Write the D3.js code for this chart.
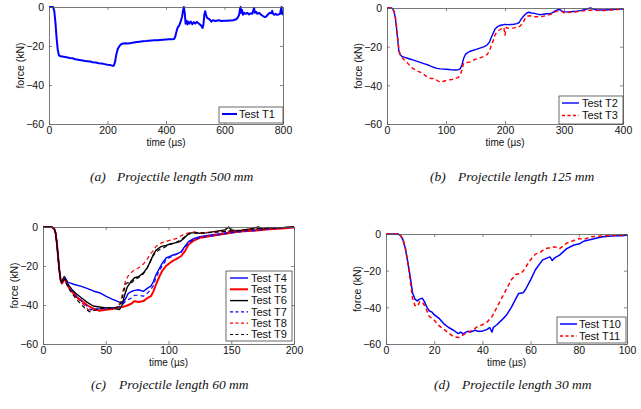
<!DOCTYPE html>
<html><head><meta charset="utf-8">
<script src="https://cdn.jsdelivr.net/npm/d3@7"></script>
<style>body{margin:0;background:#fff}svg{display:block}</style>
</head><body>
<svg id="c" width="641" height="409"></svg>
<script>
// ---------- DATA (time µs, force kN) ----------
const yTicks = [0, -20, -40, -60];
const xTicksA = [0, 200, 400, 600, 800];
const xTicksB = [0, 100, 200, 300, 400];
const xTicksC = [0, 50, 100, 150, 200];
const xTicksD = [0, 20, 40, 60, 80, 100];
const captions = ["Projectile length 500 mm","Projectile length 125 mm","Projectile length 60 mm","Projectile length 30 mm"];
const captionTags = ["(a)","(b)","(c)","(d)"];

const T1 = [[0,0],[14,0],[18,-2],[22,-8],[26,-16],[30,-22],[34,-24.8],[40,-25.3],[50,-25.5],[60,-25.8],[70,-26.2],[80,-26.3],[90,-26.8],[100,-27],[110,-27.3],[120,-27.6],[130,-27.8],[140,-28],[150,-28.3],[160,-28.5],[170,-28.8],[180,-29],[190,-29.3],[200,-29.6],[210,-29.8],[218,-30.2],[222,-30],[226,-28],[230,-24.5],[235,-21.5],[240,-20.2],[245,-19.3],[250,-18.8],[260,-18.6],[270,-18.7],[280,-18.5],[290,-18.2],[300,-18],[310,-17.8],[320,-17.6],[330,-17.5],[340,-17.3],[350,-17.2],[360,-17.1],[370,-17],[380,-16.9],[390,-16.8],[400,-16.7],[410,-16.6],[420,-16.5],[428,-16.4],[432,-15],[436,-12.5],[440,-10.5],[445,-9.5],[450,-7.5],[455,-5],[458,-2],[461,0],[464,-3],[467,-8.5],[470,-7],[473,-9],[476,-7.5],[480,-8.5],[485,-7.5],[490,-8.8],[495,-7.8],[500,-8.5],[505,-7.6],[510,-8.2],[515,-8.8],[520,-9.5],[525,-10.8],[528,-9],[531,-4],[534,-2.2],[537,-4],[540,-5.5],[545,-6],[550,-6.5],[555,-7.5],[560,-6.8],[570,-7.2],[580,-6.8],[590,-7.2],[600,-7],[610,-7.1],[620,-6.9],[630,-6.8],[640,-6.3],[645,-5.5],[650,-4],[653,-1],[655,0],[657,-3],[660,-1.5],[663,-4],[667,-3],[672,-3.5],[678,-3],[684,-3.8],[690,-3.2],[695,-3.5],[698,-2],[701,-0.5],[704,-3],[708,-2.5],[712,-3.5],[718,-3],[724,-3.8],[730,-4.5],[735,-5],[740,-5.2],[745,-4.5],[750,-3.5],[755,-3],[760,-3.2],[763,-2],[766,-3.5],[770,-4],[775,-3.5],[780,-4],[785,-3.8],[790,-3.5],[793,-1],[795,0],[797,-3.5],[800,-4]];

const T2 = [[0,0],[8,0],[10,-0.5],[12,-2],[14,-5],[16,-10],[18,-16],[20,-22],[22,-24],[25,-25],[30,-25.5],[35,-26],[40,-26.5],[45,-27],[50,-27.5],[55,-28],[60,-28.5],[65,-29],[70,-29.5],[75,-30.2],[80,-30.8],[85,-31.2],[90,-31.5],[95,-31.6],[100,-31.7],[105,-31.8],[110,-32],[115,-32.1],[120,-32],[124,-31.5],[127,-29.5],[130,-26],[133,-24],[136,-23.2],[140,-22.5],[145,-22],[150,-21.5],[155,-21],[160,-20.5],[165,-20],[170,-19],[174,-17.5],[177,-15],[180,-13],[183,-11],[186,-10],[190,-9.2],[195,-8.8],[200,-8.5],[205,-8.6],[210,-8.5],[215,-8.4],[220,-8.1],[224,-7.5],[228,-5.5],[232,-4],[236,-2.8],[240,-2.2],[245,-2.6],[250,-2.8],[255,-3.2],[260,-3.5],[265,-3.2],[270,-3],[275,-3],[280,-2.5],[285,-1.5],[290,-0.9],[293,-0.8],[296,-1.5],[300,-2],[305,-2],[310,-2],[315,-1.8],[320,-1.8],[325,-1.5],[330,-1.2],[335,-0.8],[340,-0.4],[345,0],[350,-0.6],[355,-0.9],[360,-1],[370,-1],[380,-0.8],[390,-0.7],[400,-0.5]];

const T3 = [[0,0],[8,0],[10,-0.5],[12,-2],[14,-4],[16,-9],[18,-15],[20,-21],[22,-24],[25,-25.5],[30,-27],[35,-28.5],[40,-30.3],[45,-31.5],[50,-32.5],[55,-33],[60,-33.7],[65,-35],[70,-36],[75,-36.5],[80,-36.5],[85,-37.5],[90,-38.4],[95,-38],[100,-37.5],[105,-37.2],[110,-37],[115,-36.5],[120,-36],[124,-35],[127,-32],[130,-28.5],[135,-28.2],[140,-28],[145,-27.2],[150,-26.5],[155,-26],[160,-25.5],[165,-25],[170,-24],[174,-22],[177,-19],[180,-17],[183,-14],[186,-12.5],[190,-11.5],[195,-10.5],[198,-10],[200,-14],[202,-10],[205,-10.5],[210,-10.5],[215,-10.3],[220,-10],[225,-9.5],[230,-8],[234,-5.5],[238,-4.2],[242,-4],[250,-4.5],[260,-4.5],[270,-4],[280,-3],[285,-2],[290,-1.5],[295,-1.5],[300,-2.5],[310,-2.2],[320,-2],[330,-1.6],[340,-1.2],[350,-1.2],[360,-1.3],[370,-1.3],[380,-1],[390,-0.8],[400,-0.5]];

const T4 = [[0,0],[7,0],[9,-1],[10,-3],[11,-8],[12,-15],[13,-22],[14,-27],[15,-28.5],[16,-27],[17,-25.5],[18,-26.5],[20,-28.5],[22,-28.8],[25,-29.5],[30,-30.3],[35,-31.5],[40,-32.8],[45,-33.7],[50,-35.5],[55,-37],[60,-38.3],[62,-39],[64,-38.5],[66,-36.5],[68,-34],[70,-33.2],[73,-32.5],[76,-32.2],[80,-33],[83,-31.5],[86,-30.3],[88,-28],[90,-24.5],[93,-21],[95,-18.5],[98,-16],[100,-15.3],[103,-14.5],[106,-14],[110,-12.8],[113,-10],[116,-7.5],[120,-6],[125,-5],[130,-4.5],[135,-4],[140,-3.5],[145,-3],[150,-2.5],[155,-2.2],[160,-2],[165,-1.8],[170,-1.5],[175,-1.3],[180,-1],[190,-0.6],[200,0]];

const T5 = [[0,0],[7,0],[9,-1],[10,-3],[11,-8],[12,-15],[13,-22],[14,-27],[15,-29],[16,-28],[17,-26.5],[18,-27.5],[20,-30.5],[23,-33],[26,-35.5],[30,-37.5],[35,-40],[40,-41.8],[45,-43],[50,-42.5],[55,-42],[60,-41.3],[63,-41],[66,-40.5],[70,-39.5],[73,-38],[76,-38.5],[80,-38],[83,-36.5],[86,-35.5],[88,-33],[90,-29.5],[93,-25],[95,-22.5],[98,-20],[100,-19],[103,-17.5],[106,-16.5],[110,-15],[113,-12.5],[116,-9],[120,-7],[125,-5.5],[130,-5],[135,-4.5],[140,-4],[145,-3.5],[150,-3],[155,-2.5],[160,-2.2],[170,-1.8],[180,-1.2],[190,-0.8],[200,-0.3]];

const T6 = [[0,0],[7,0],[9,-1],[10,-3],[11,-8],[12,-15],[13,-22],[14,-27],[15,-28],[16,-26.5],[17,-25.5],[18,-27],[20,-29.5],[23,-32],[26,-34],[30,-36],[35,-38.5],[40,-40.5],[45,-41],[50,-41.5],[55,-41.5],[58,-42],[61,-42.3],[63,-40],[65,-35],[67,-31],[70,-28],[73,-26],[76,-25.5],[80,-23.5],[83,-21],[86,-17],[88,-14],[90,-12],[93,-10.5],[95,-9.8],[98,-9.5],[100,-9],[103,-8.5],[106,-8],[109,-7.5],[112,-6],[115,-4],[118,-3],[120,-3],[125,-3.2],[130,-3],[135,-2.5],[140,-2],[145,-1.5],[148,0],[150,-1.5],[155,-2],[160,-1.5],[165,-1],[170,-0.2],[172,0],[175,-1],[180,-0.5],[190,-0.3],[200,0]];

const T7 = [[0,0],[7,0],[9,-1],[10,-3],[11,-8],[12,-15],[13,-22],[14,-27],[15,-28.5],[16,-27.5],[17,-26],[18,-27],[20,-30],[23,-32.5],[26,-35],[30,-37.5],[35,-40.5],[38,-42.5],[40,-42],[45,-42],[50,-42],[55,-41.5],[60,-41],[63,-40],[66,-38],[70,-36.5],[73,-35],[76,-35],[80,-35.5],[83,-34],[86,-32],[88,-30],[90,-26],[93,-22],[95,-20],[98,-17],[100,-16],[103,-15],[106,-14],[110,-13],[113,-10.5],[116,-8],[120,-6.5],[125,-5.5],[130,-5],[140,-4],[150,-3],[160,-2.2],[170,-1.8],[180,-1],[190,-0.5],[200,0]];

const T8 = [[0,0],[7,0],[9,-1],[10,-3],[11,-8],[12,-15],[13,-22],[14,-27],[15,-29],[16,-28],[17,-26],[18,-27.5],[20,-30.5],[23,-33],[26,-35.5],[30,-38],[34,-41],[37,-43],[40,-42.8],[45,-42],[50,-42],[55,-42],[60,-41],[62,-38],[64,-32],[66,-27],[68,-25],[70,-23.5],[73,-22],[76,-21],[80,-19],[83,-16.5],[86,-13.5],[88,-12],[90,-10],[93,-8.5],[95,-8],[98,-7.5],[100,-7],[103,-6.5],[106,-6],[110,-4.5],[113,-3.5],[116,-3],[120,-2.5],[125,-3],[130,-2.8],[140,-2.5],[150,-2],[160,-1.5],[170,-1],[180,-0.8],[190,-0.5],[200,0]];

const T9 = [[0,0],[7,0],[9,-1],[10,-3],[11,-8],[12,-15],[13,-22],[14,-27],[15,-29],[16,-28],[17,-26.5],[18,-28],[20,-31],[23,-34],[26,-36.5],[30,-39.5],[34,-42],[37,-43.5],[40,-43],[45,-42],[50,-41.5],[55,-41.5],[60,-41],[62,-39],[64,-34],[66,-29],[68,-28.5],[70,-29],[73,-27],[76,-26],[80,-24],[83,-21],[86,-17],[88,-14.5],[90,-13],[93,-11.5],[95,-11],[98,-10],[100,-9],[103,-8.5],[106,-8],[110,-6.5],[113,-5],[116,-3.5],[120,-3],[130,-3],[140,-2.5],[150,-2],[160,-1.5],[170,-0.8],[180,-0.5],[190,-0.3],[200,0]];

const T10 = [[0,0],[5,0],[6,-0.8],[7,-3],[8,-7.8],[9,-15],[10,-23],[11,-32],[12,-35.5],[13,-36.5],[14,-35.5],[15,-35],[16,-37],[17,-40],[18,-42],[19,-42.5],[20,-44],[22,-46],[24,-49],[26,-51],[28,-52.5],[30,-54.3],[31,-53.5],[32,-54.5],[34,-53],[35,-53.5],[37,-52.5],[38,-53],[40,-53],[42,-52],[43,-51],[44,-53.5],[44.5,-51],[46,-49.5],[48,-47],[50,-44.2],[52,-40],[54,-35],[55,-32.5],[57,-32],[58,-30],[60,-25],[62,-19.5],[65,-14.1],[67,-13],[68,-12.5],[69,-14.5],[70,-13],[72,-11.5],[75,-8],[78,-6],[80,-5.5],[82,-4],[85,-3],[88,-2],[90,-1.5],[95,-1],[98,-1],[100,-0.5]];

const T11 = [[0,0],[5,0],[6,-0.8],[7,-3],[8,-7],[9,-15],[10,-25],[11,-35],[12,-39],[13,-39.5],[14,-37],[15,-37],[16,-39],[17,-42],[18,-45],[20,-47],[22,-50],[25,-53],[28,-56],[30,-56.5],[32,-55],[35,-53],[38,-50.5],[40,-49.5],[42,-48],[44,-45],[46,-40],[48,-35],[50,-30],[52,-25],[54,-22],[56,-21.5],[57,-20],[60,-14],[62,-11],[64,-10],[66,-8],[68,-7.5],[70,-7],[72,-8],[75,-5],[78,-3.5],[80,-2.5],[82,-3],[85,-1.5],[90,-1],[95,-0.8],[100,-0.5]];

// ---------- LAYOUT ----------
const panels = [
  {x0:49,x1:283,y0:7,y1:124,xmax:800,xticks:xTicksA,
   series:[{name:"Test T1",data:T1,color:"#0000ff",dash:null,w:2}],
   leg:{x:219,y:107,w:64,h:16,lx0:222,lx1:237,tx:239,dy:11.5},
   cap:{tx:90,px:117,y:181}},
  {x0:387,x1:623,y0:8,y1:124,xmax:400,xticks:xTicksB,
   series:[{name:"Test T2",data:T2,color:"#0000ff",dash:null,w:1.4},
           {name:"Test T3",data:T3,color:"#ff0000",dash:"4,3",w:1.4}],
   leg:{x:559,y:96,w:64,h:28,lx0:562,lx1:579,tx:582,dy:12.5},
   cap:{tx:430,px:458,y:181}},
  {x0:43,x1:294,y0:227,y1:344,xmax:200,xticks:xTicksC,
   series:[{name:"Test T4",data:T4,color:"#0000ff",dash:null,w:1.4},
           {name:"Test T5",data:T5,color:"#ff0000",dash:null,w:2},
           {name:"Test T6",data:T6,color:"#000000",dash:null,w:1.4},
           {name:"Test T7",data:T7,color:"#0000ff",dash:"4,3",w:1.2},
           {name:"Test T8",data:T8,color:"#ff0000",dash:"4,3",w:1.2},
           {name:"Test T9",data:T9,color:"#000000",dash:"4,3",w:1.2}],
   leg:{x:226,y:271,w:66,h:70,lx0:230,lx1:248,tx:251,dy:11.3},
   cap:{tx:91,px:119,y:389}},
  {x0:386,x1:627,y0:234,y1:344,xmax:100,xticks:xTicksD,
   series:[{name:"Test T10",data:T10,color:"#0000ff",dash:null,w:1.5},
           {name:"Test T11",data:T11,color:"#ff0000",dash:"4,3",w:1.5}],
   leg:{x:557,y:317,w:69,h:26,lx0:560,lx1:577,tx:579,dy:12},
   cap:{tx:434,px:462,y:389}}
];

const svg = d3.select("#c");
const tickFont = "'Liberation Sans', Arial, Helvetica, sans-serif";
const capFont = "'Liberation Serif', 'Times New Roman', serif";

panels.forEach((p,i)=>{
  const x = d3.scaleLinear().domain([0,p.xmax]).range([p.x0,p.x1]);
  const y = d3.scaleLinear().domain([-60,0]).range([p.y1,p.y0]);
  const g = svg.append("g");
  const cid = "clip"+i;
  g.append("clipPath").attr("id",cid).append("rect")
    .attr("x",p.x0).attr("y",p.y0-1).attr("width",p.x1-p.x0).attr("height",p.y1-p.y0+1);
  g.append("rect").attr("x",p.x0).attr("y",p.y0).attr("width",p.x1-p.x0).attr("height",p.y1-p.y0).attr("fill","#fff");

  const line = d3.line().x(d=>x(d[0])).y(d=>y(d[1]));
  p.series.forEach(s=>{
    g.append("path").attr("d",line(s.data)).attr("fill","none")
      .attr("stroke",s.color).attr("stroke-width",s.w)
      .attr("stroke-dasharray",s.dash).attr("stroke-linejoin","round")
      .attr("clip-path",`url(#${cid})`);
  });

  const axB = d3.axisBottom(x).tickValues(p.xticks).tickSizeInner(-3).tickSizeOuter(0).tickFormat(d3.format("d"));
  const axT = d3.axisTop(x).tickValues(p.xticks).tickSizeInner(-3).tickSizeOuter(0).tickFormat("");
  const axL = d3.axisLeft(y).tickValues(yTicks).tickSizeInner(-3).tickSizeOuter(0).tickFormat(d=>d<0?"\u2212"+(-d):d);
  const axR = d3.axisRight(y).tickValues(yTicks).tickSizeInner(-3).tickSizeOuter(0).tickFormat("");
  const gb = g.append("g").attr("transform",`translate(0,${p.y1})`).call(axB);
  const gt = g.append("g").attr("transform",`translate(0,${p.y0})`).call(axT);
  const gl = g.append("g").attr("transform",`translate(${p.x0},0)`).call(axL);
  const gr = g.append("g").attr("transform",`translate(${p.x1},0)`).call(axR);
  [gb,gt,gl,gr].forEach(a=>{
    a.select(".domain").attr("stroke","#555").attr("stroke-width",0.8);
    a.selectAll(".tick line").attr("stroke","#555").attr("stroke-width",0.7);
    a.selectAll("text").attr("font-family",tickFont).attr("font-size",10.5).attr("fill","#111");
  });
  gb.selectAll(".tick text").attr("y",10).attr("dy","0");
  gl.selectAll(".tick text").attr("x",-5).attr("dy","0.35em");

  g.append("text").attr("x",(p.x0+p.x1)/2).attr("y",p.y1+21.5).attr("text-anchor","middle")
    .attr("font-family",tickFont).attr("font-size",10).attr("fill","#111").text("time (\u00b5s)");
  const ylx = p.x0 - 25, yly = (p.y0+p.y1)/2;
  g.append("text").attr("transform",`translate(${ylx},${yly}) rotate(-90)`).attr("text-anchor","middle")
    .attr("font-family",tickFont).attr("font-size",10.5).attr("fill","#111").text("force (kN)");

  const L = p.leg;
  g.append("rect").attr("x",L.x).attr("y",L.y).attr("width",L.w).attr("height",L.h)
    .attr("fill","#fff").attr("stroke","#444").attr("stroke-width",0.8);
  p.series.forEach((s,k)=>{
    const cy = L.y + 7 + k*L.dy;
    g.append("line").attr("x1",L.lx0).attr("x2",L.lx1).attr("y1",cy).attr("y2",cy)
      .attr("stroke",s.color).attr("stroke-width",s.w).attr("stroke-dasharray",s.dash?"3,2.5":null);
    g.append("text").attr("x",L.tx).attr("y",cy).attr("dy","0.35em")
      .attr("font-family",tickFont).attr("font-size",11).attr("fill","#111").text(s.name);
  });

  g.append("text").attr("x",p.cap.tx).attr("y",p.cap.y).attr("font-family",capFont)
    .attr("font-style","italic").attr("font-size",13.5).attr("fill","#111").text(captionTags[i]);
  g.append("text").attr("x",p.cap.px).attr("y",p.cap.y).attr("font-family",capFont)
    .attr("font-style","italic").attr("font-size",13.5).attr("fill","#111").text(captions[i]);
});
</script>
</body></html>
